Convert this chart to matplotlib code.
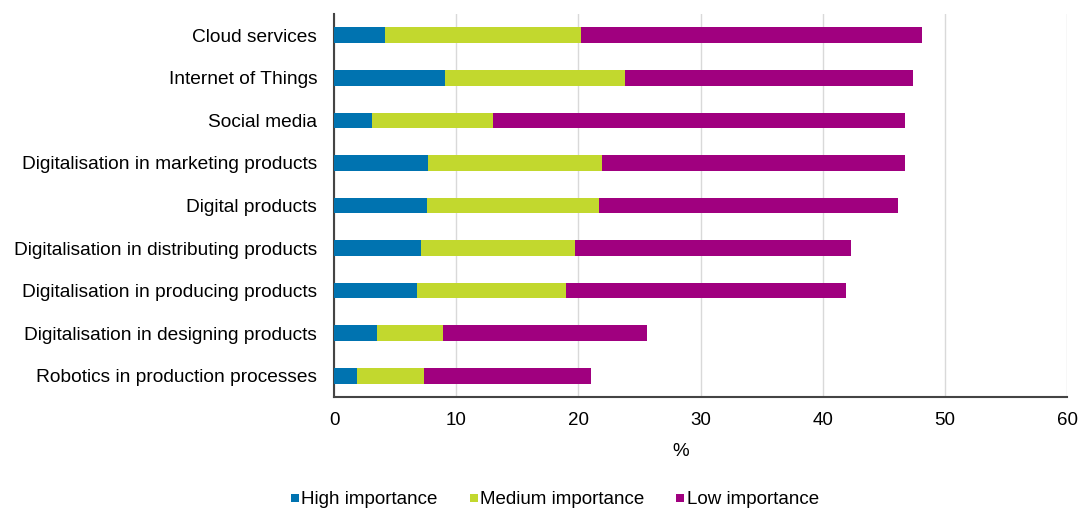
import matplotlib
matplotlib.use("Agg")
import matplotlib.pyplot as plt
import numpy as np

plt.rcParams['font.family'] = ['Liberation Sans', 'DejaVu Sans']

categories = [
    "Cloud services",
    "Internet of Things",
    "Social media",
    "Digitalisation in marketing products",
    "Digital products",
    "Digitalisation in distributing products",
    "Digitalisation in producing products",
    "Digitalisation in designing products",
    "Robotics in production processes",
]
high = [4.2, 9.1, 3.1, 7.7, 7.6, 7.1, 6.8, 3.5, 1.9]
medium = [16.0, 14.7, 9.9, 14.2, 14.1, 12.6, 12.2, 5.4, 5.5]
low = [27.9, 23.6, 33.7, 24.8, 24.5, 22.6, 22.9, 16.7, 13.6]
series_names = ["High importance", "Medium importance", "Low importance"]
colors = ["#0073B0", "#C2D82E", "#A0007F"]

FS = 13.5
fig = plt.figure(figsize=(10.82, 5.14), dpi=100)
ax = fig.add_axes([334/1082, 1 - 397/514, (1067-334)/1082, (397-14)/514])

y = np.arange(len(categories))
left = np.zeros(len(categories))
for vals, name, c in zip([high, medium, low], series_names, colors):
    ax.barh(y, vals, left=left, height=0.37, color=c, label=name, zorder=3)
    left = left + np.array(vals)

ax.set_ylim(len(categories) - 0.5, -0.5)
ax.set_yticks(y)
ax.set_yticklabels(categories, fontsize=13.8)
ax.set_xlim(0, 60)
ax.set_xticks(range(0, 61, 10))
ax.tick_params(axis='x', labelsize=FS, length=0, pad=11)
ax.tick_params(axis='y', length=0, pad=12)
ax.xaxis.grid(True, color="#d9d9d9", linewidth=1, zorder=0)
for s in ["top", "right"]:
    ax.spines[s].set_visible(False)
for s in ["left", "bottom"]:
    ax.spines[s].set_color("#444444")
    ax.spines[s].set_linewidth(1.5)

fig.text(681/1082, 1 - 451/514, "%", fontsize=FS, ha="center", va="center")

handles, labels = ax.get_legend_handles_labels()
fig.legend(handles, labels, loc="center", bbox_to_anchor=(555/1082, 1 - 500/514), ncol=3,
           frameon=False, fontsize=FS, handlelength=0.42, handleheight=0.32,
           handletextpad=0.15, columnspacing=1.7)

fig.savefig("out.png", dpi=100)
